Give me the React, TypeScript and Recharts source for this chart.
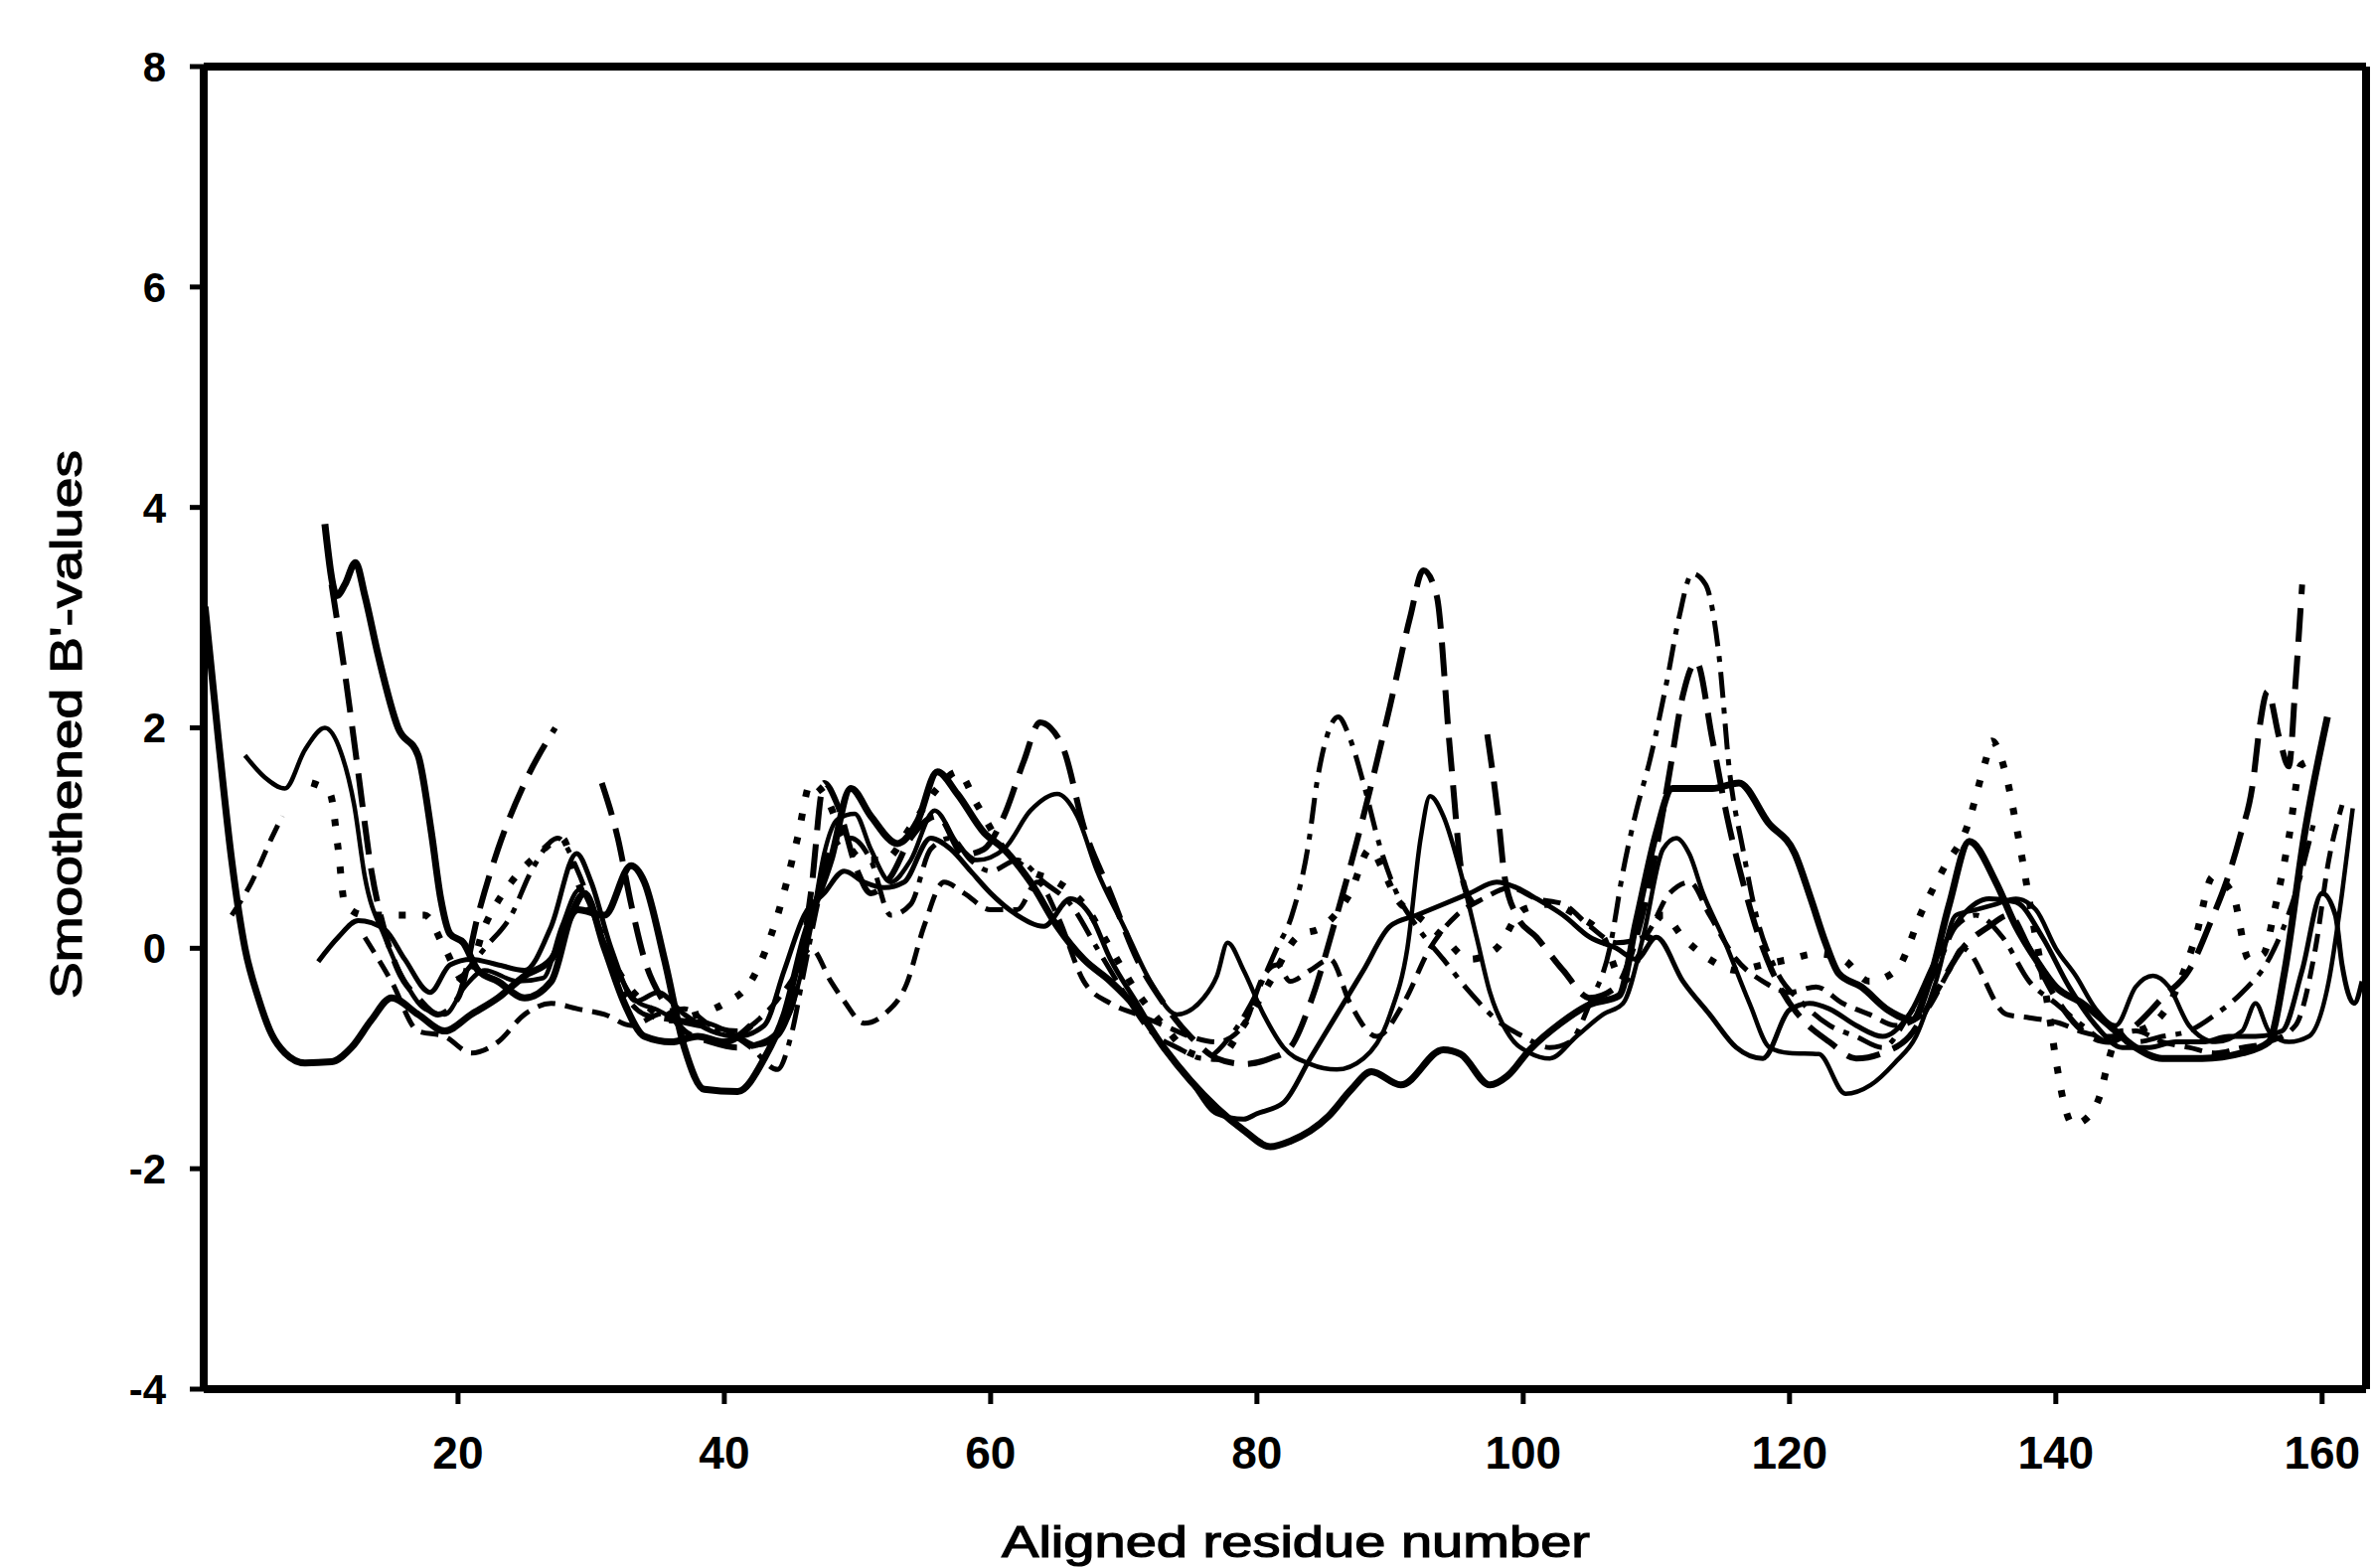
import React from 'react';
import { LineChart, Line, XAxis, YAxis, ReferenceLine } from 'recharts';

type Pt = [number, number | null];

const FONT = '"Liberation Sans", Arial, Helvetica, sans-serif';

const X_TICKS = [20, 40, 60, 80, 100, 120, 140, 160];
const Y_TICKS = [-4, -2, 0, 2, 4, 6, 8];

// thick solid trace (left spike, deep trough near 81, plateau at 111-116)
const thickSolid: Pt[] = [
  [1, 3.1], [2, 1.9], [3, 0.8], [4, 0.0], [5, -0.45], [6, -0.78], [7, -0.95], [8.5, -1.04], [10.5, -1.03],
  [12, -0.9], [13.5, -0.65], [15, -0.45], [17, -0.6], [19, -0.75], [21, -0.6], [23, -0.45], [25, -0.25],
  [27, -0.1], [29, 0.35], [31, 0.3], [33, 0.75], [34, 0.6], [35.5, -0.1], [37, -0.9], [38.5, -1.28],
  [41, -1.3], [43, -1.0], [44.5, -0.6], [46, 0.1], [48, 0.8], [49.5, 1.45], [51, 1.2], [53, 0.95],
  [54.5, 1.15], [56, 1.6], [57.5, 1.4], [59.5, 1.05], [61, 0.9], [63, 0.6], [65, 0.2], [67, -0.1],
  [69, -0.3], [71, -0.55], [73, -0.9], [75, -1.2], [77, -1.45], [79, -1.65], [81, -1.8], [82.5, -1.75],
  [85.4, -1.52], [87.1, -1.28], [88.6, -1.12], [90.8, -1.24], [94, -0.92], [95.3, -0.96], [97.5, -1.24],
  [98.8, -1.16], [100.5, -0.92], [102.8, -0.68], [105, -0.51], [107.2, -0.43], [108.5, 0.25], [110, 1.05],
  [111.2, 1.45], [114.2, 1.45], [116.2, 1.5], [118.4, 1.14], [120.4, 0.86], [121.6, 0.45], [122.7, 0.05],
  [123.7, -0.23], [125.4, -0.35], [127.4, -0.56], [129.2, -0.65], [130.5, -0.3], [132, 0.4], [133.5, 0.97],
  [135.5, 0.6], [137, 0.2], [138.5, -0.1], [140, -0.35], [142, -0.5], [144, -0.7], [146, -0.9], [148, -1.0],
  [151, -1.0], [154, -0.95], [156, -0.85], [157.2, -0.2], [158.7, 1.05], [160.4, 2.1],
];

// thick solid trace that starts high at residue 10
const startSolid: Pt[] = [
  [10, 3.85], [10.9, 3.2], [11.5, 3.3], [12.3, 3.5], [13, 3.2], [14, 2.66], [15.5, 2.0], [17, 1.75],
  [18, 1.05], [18.7, 0.45], [19.4, 0.13], [20.4, 0.05], [21.5, -0.2], [23, -0.3], [25, -0.45], [27, -0.3],
  [28.5, 0.3], [29.5, 0.5], [31, 0.0], [32.5, -0.5], [34, -0.8], [36, -0.85], [38, -0.8], [40, -0.85], [42, -0.7],
];

const thinSolid: Pt[] = [
  [4, 1.75], [5.5, 1.55], [7, 1.45], [8.5, 1.8], [10, 2.0], [11.2, 1.78], [12.2, 1.3], [13, 0.65], [14.5, 0.1],
  [16, -0.3], [17.5, -0.55], [19, -0.6], [20.5, -0.35], [22, -0.2], [24.5, -0.3], [26.4, -0.27], [27.8, 0.2],
  [29.1, 0.53], [31, 0.05], [33.4, -0.48], [35, -0.56], [36.3, -0.64], [38.8, -0.68], [41, -0.8], [42.5, -0.88],
  [44, -0.8], [45, -0.56], [46.6, 0.25], [47.5, 0.86], [48.5, 1.17], [49.8, 1.22], [51, 0.9], [52.5, 0.6],
  [54, 0.8], [55.8, 1.25], [57.5, 0.95], [59, 0.8], [61, 0.9], [63, 1.25], [65, 1.4], [66.5, 1.2], [68, 0.7],
  [70, 0.2], [72, -0.3], [74, -0.6], [76, -0.45], [77, -0.25], [77.8, 0.05], [79, -0.2], [80.5, -0.6],
  [82, -0.9], [84, -1.05], [86, -1.1], [88, -1.0], [90, -0.6], [91.3, 0.0], [92.3, 1.0], [93, 1.38], [94, 1.2],
  [95.3, 0.69], [96.5, 0.1], [97.5, -0.4], [99, -0.8], [100.5, -0.95], [102, -1.0], [104, -0.8], [106, -0.6],
  [107.5, -0.5], [109, 0.1], [110.5, 0.9], [111.5, 1.0], [112.5, 0.85], [113.5, 0.5], [115, 0.1], [117, -0.5],
  [118.5, -0.9], [120, -0.95], [122.2, -0.96], [124.2, -1.32], [126.1, -1.24], [127.9, -1.04], [129.5, -0.8],
  [131, -0.3], [132.5, 0.3], [134, 0.35], [135.5, 0.4], [137, 0.45], [138.5, 0.35], [140, 0.0], [141.5, -0.25],
  [143, -0.55], [144.5, -0.7], [146, -0.35], [147.3, -0.25], [148.5, -0.35], [150, -0.7], [152, -0.85],
  [154, -0.75], [155, -0.5], [156, -0.75], [157.5, -0.85], [159, -0.8], [160.5, -0.3], [161.5, 0.5], [162.3, 1.27],
];

const midSolid: Pt[] = [
  [9.5, -0.12], [11, 0.1], [12.5, 0.25], [14.5, 0.17], [16, -0.1], [17.9, -0.4], [19.4, -0.15], [21, -0.1],
  [23, -0.15], [25, -0.2], [27, 0.2], [28.9, 0.86], [30, 0.6], [31.5, 0.0], [33.4, -0.48], [35, -0.4],
  [37, -0.6], [39, -0.75], [41, -0.8], [43, -0.7], [44.5, -0.2], [46, 0.3], [47.5, 0.5], [49, 0.7],
  [50.5, 0.6], [52, 0.55], [53.5, 0.6], [55.5, 1.0], [57, 0.9], [58.5, 0.7], [60, 0.5], [62, 0.3], [64, 0.2],
  [66, 0.45], [67.5, 0.3], [69, -0.1], [71, -0.5], [73, -0.9], [75, -1.2], [77, -1.5], [79, -1.55], [80, -1.5],
  [82, -1.4], [84, -1.0], [86, -0.6], [88, -0.2], [90, 0.2], [92, 0.3], [94, 0.4], [96, 0.5], [98, 0.6],
  [99.5, 0.55], [101, 0.45], [103, 0.3], [105, 0.1], [107, 0.0], [108.5, -0.1], [110, 0.1], [112, -0.3],
  [114, -0.6], [116, -0.9], [118, -1.0], [120, -0.56], [121.5, -0.5], [123, -0.55], [125, -0.7], [127, -0.8],
  [129, -0.6], [131, -0.1], [133, 0.3], [135, 0.45], [137, 0.42], [139, 0.1], [141, -0.35], [143, -0.7],
  [145, -0.9], [147, -0.9], [149, -0.85], [151, -0.85], [153, -0.8], [155, -0.8], [157, -0.75], [158.5, -0.2],
  [160, 0.5], [161, 0.3], [161.5, -0.15], [162.4, -0.5], [163, -0.3],
];

const longDash: Pt[] = [
  [10.5, 3.3], [11.5, 2.5], [12.5, 1.6], [13.5, 0.7], [14.5, 0.15], [15.5, -0.2], [17, -0.45], [18.5, -0.6],
  [20, -0.45], [21.5, 0.3], [23, 0.9], [25, 1.5], [27.3, 2.0], [28, null], [30.8, 1.5], [32, 1.0], [33, 0.4],
  [34, -0.1], [35.5, -0.5], [37, -0.75], [39, -0.85], [41, -0.9], [43, -0.85], [45, -0.55], [46.5, 0.5],
  [47.5, 1.5], [48.5, 1.3], [50, 0.7], [51, 0.5], [52.5, 0.65], [54, 1.0], [56, 1.2], [58, 0.85], [59.5, 0.9],
  [61, 1.2], [62.5, 1.7], [63.7, 2.05], [64.5, 2.0], [65.5, 1.8], [67, 1.1], [69, 0.5], [71, -0.1], [73, -0.5],
  [75, -0.8], [77, -1.0], [79, -1.05], [81, -1.0], [82.5, -0.9], [84, -0.5], [86, 0.3], [88, 1.2], [90, 2.2],
  [91.5, 3.0], [92.5, 3.43], [93.5, 3.2], [94.5, 1.8], [95.5, 0.6], [96.3, 0.4], [96.8, null], [97.3, 1.94],
  [98.1, 1.22], [98.6, 0.65], [99.5, 0.3], [101, 0.1], [103, -0.2], [105, -0.45], [107, -0.35], [108.5, 0.1],
  [110, 0.9], [111, 1.6], [112, 2.3], [113, 2.6], [114.2, 1.9], [115.3, 1.2], [116.5, 0.6], [118, 0.0],
  [119.5, -0.4], [121, -0.65], [123, -0.85], [125, -1.0], [127, -0.95], [129, -0.8], [131, -0.4], [133, 0.0],
  [135, 0.2], [136.5, 0.3], [138, 0.0], [140, -0.45], [142, -0.75], [144, -0.85], [146, -0.7], [148, -0.45],
  [150, -0.2], [151.8, 0.29], [152.8, 0.6], [153.8, 1.0], [154.8, 1.5], [155.3, 2.0], [155.9, 2.33],
  [156.8, 1.9], [157.5, 1.65], [158, 2.4], [158.5, 3.3],
];

const dashDot: Pt[] = [
  [20, -0.3], [22, 0.0], [24, 0.3], [25.5, 0.7], [27.5, 1.0], [29, 0.7], [30.5, 0.2], [32, -0.3], [34, -0.6],
  [36, -0.65], [38, -0.7], [40, -0.75], [42, -0.9], [44, -1.1], [45, -0.8], [46, -0.2], [47, 0.4], [48, 0.9],
  [49.5, 1.0], [51, 0.8], [52.5, 0.3], [54, 0.4], [55.5, 0.9], [57, 1.0], [58.5, 0.8], [60, 0.7], [62, 0.8],
  [64, 0.6], [66, 0.4], [68, 0.0], [70, -0.4], [72, -0.75], [74, -0.9], [76, -1.0], [78, -0.8], [80, -0.4],
  [81.5, 0.0], [82.6, 0.29], [83.9, 0.97], [84.5, 1.5], [85.2, 1.9], [86.1, 2.1], [87, 1.9], [88, 1.5],
  [89.2, 0.94], [90.5, 0.5], [92, 0.2], [94, -0.1], [96, -0.4], [98, -0.65], [100, -0.8], [102, -0.9],
  [103.5, -0.85], [105, -0.5], [106.5, 0.0], [107.5, 0.7], [108.5, 1.25], [109.5, 1.7], [110.8, 2.43],
  [111.7, 3.0], [112.7, 3.4], [113.7, 3.3], [114.7, 2.66], [115.5, 1.6], [116.5, 0.9], [117.5, 0.3],
  [119, -0.2], [121, -0.5], [123, -0.7], [125, -0.8], [127, -0.9], [129, -0.6], [131, -0.2], [132.5, 0.2],
  [134, 0.3], [136, 0.1], [138, -0.3], [140, -0.5], [142, -0.7], [144, -0.85], [146, -0.85], [148, -0.8],
  [150, -0.75], [152, -0.6], [154, -0.4], [156, -0.1], [158, 0.5], [159.5, 1.2],
];

const dotted: Pt[] = [
  [9, 1.5], [10.4, 1.4], [11, 0.9], [11.5, 0.4], [13, 0.3], [15.5, 0.3], [17.5, 0.3], [19, 0.0], [20.5, -0.3],
  [22, 0.2], [24, 0.6], [26, 0.85], [27.8, 1.0], [29, 0.6], [30.5, 0.2], [32, -0.2], [34, -0.5], [36, -0.65],
  [38, -0.6], [40, -0.5], [42, -0.3], [44, 0.3], [45.5, 1.0], [46.5, 1.5], [47.5, 1.4], [49, 1.0], [50.5, 0.8],
  [52, 0.8], [54, 1.1], [56, 1.45], [57.5, 1.6], [59, 1.3], [61, 0.9], [63, 0.7], [65, 0.6], [67, 0.4],
  [69, 0.0], [71, -0.4], [73, -0.7], [75, -0.95], [77, -1.0], [79, -0.7], [81, -0.3], [83, 0.1], [85, 0.2],
  [87, 0.5], [88.5, 0.9], [89.5, 0.7], [90.5, 0.45], [92, 0.3], [94, 0.1], [96, -0.1], [98, 0.0], [100, 0.35],
  [102, 0.4], [104, 0.3], [106, 0.1], [107.5, -0.3], [109, 0.0], [110.5, 0.3], [112, 0.1], [114, -0.1],
  [116, -0.2], [118, -0.15], [120, -0.1], [122, -0.05], [124, -0.1], [126, -0.3], [128, -0.2], [130, 0.35],
  [131.6, 0.73], [133.3, 1.09], [134.7, 1.69], [135.2, 1.88], [136.2, 1.6], [137.2, 1.0], [138.2, 0.3],
  [139.4, -0.52], [140.1, -1.08], [140.6, -1.4], [141.3, -1.6], [142.5, -1.52], [143.3, -1.34], [144, -1.0],
  [144.8, -0.76], [146, -0.75], [148, -0.6], [150.5, 0.1], [151.8, 0.65], [153.3, 0.49], [154.5, -0.1],
  [155.6, -0.05], [156.4, 0.33], [157.5, 1.0], [158.4, 1.66], [159.2, 1.7],
];

const mediumDash: Pt[] = [
  [3, 0.3], [4.5, 0.6], [6, 1.0], [6.8, 1.2], [7.5, null], [13, 0.1], [15, -0.3], [17, -0.75], [19, -0.8],
  [21, -0.95], [23, -0.85], [25, -0.6], [27, -0.5], [29, -0.55], [31, -0.6], [33, -0.7], [35, -0.6],
  [37, -0.55], [39, -0.7], [41, -0.75], [43, -0.6], [45, -0.3], [46.5, 0.0], [48, -0.3], [49, -0.48],
  [50.5, -0.68], [52, -0.6], [53.7, -0.32], [55, 0.2], [56.5, 0.6], [58, 0.5], [60, 0.35], [62, 0.35],
  [63.5, 0.6], [65, 0.3], [67, -0.3], [69, -0.5], [71, -0.6], [73, -0.7], [75, -0.8], [77, -0.85], [79, -0.7],
  [80.5, -0.25], [81.5, -0.15], [82.5, -0.3], [84, -0.2], [85.5, -0.1], [87, -0.5], [89, -0.8], [91, -0.5],
  [93, 0.0], [95, 0.3], [97, 0.45], [99, 0.55], [101, 0.45], [103, 0.4], [105, 0.2], [107, 0.05], [109, 0.1],
  [111, 0.5], [112.5, 0.6], [114, 0.3], [116, -0.1], [118, -0.3], [120, -0.4], [122, -0.35], [124, -0.5],
  [126, -0.6], [128, -0.7], [130, -0.6], [132, -0.2], [133, 0.0], [136.3, -0.6], [138, -0.63], [140.3, -0.68],
  [142, -0.76], [144, -0.8], [146, -0.75], [148, -0.85], [150, -0.9], [152, -0.95], [154, -0.9], [156, -0.85],
  [158, -0.7], [159.5, 0.0], [160.5, 0.8], [161.5, 1.3],
];

const toRows = (pts: Pt[]) => pts.map(([r, v]) => ({ r, v }));

const SERIES = [
  { name: 'thickSolid', pts: thickSolid, width: 7, dash: undefined },
  { name: 'startSolid', pts: startSolid, width: 7, dash: undefined },
  { name: 'thinSolid', pts: thinSolid, width: 4.5, dash: undefined },
  { name: 'midSolid', pts: midSolid, width: 5, dash: undefined },
  { name: 'longDash', pts: longDash, width: 6, dash: '34 14' },
  { name: 'dashDot', pts: dashDot, width: 5, dash: '26 10 6 10' },
  { name: 'dotted', pts: dotted, width: 7, dash: '7 17' },
  { name: 'mediumDash', pts: mediumDash, width: 5, dash: '18 10' },
];

const renderXTitle = () => (
  <text
    x={1304}
    y={1567}
    textAnchor="middle"
    fontFamily={FONT}
    fontSize={44}
    textLength={592}
    lengthAdjust="spacingAndGlyphs"
    fill="#000"
    stroke="#000"
    strokeWidth={1.2}
  >
    Aligned residue number
  </text>
);

const renderYTitle = () => (
  <text
    x={82}
    y={729}
    transform="rotate(-90 82 729)"
    textAnchor="middle"
    fontFamily={FONT}
    fontSize={44}
    textLength={552}
    lengthAdjust="spacingAndGlyphs"
    fill="#000"
    stroke="#000"
    strokeWidth={1.2}
  >
    Smoothened B'-values
  </text>
);

const xTickStyle = { fill: '#000', fontSize: 46, fontWeight: 700, fontFamily: FONT };
const yTickStyle = { fill: '#000', fontSize: 42, fontWeight: 700, fontFamily: FONT };

export default function App() {
  return (
    <div style={{ position: 'absolute', left: 0, top: 0, width: 2389, height: 1578, background: '#fff' }}>
      <LineChart width={2389} height={1578} margin={{ top: 67, right: 8, left: 0, bottom: 0 }}>
        <XAxis
          dataKey="r"
          type="number"
          domain={[0.9, 163.3]}
          ticks={X_TICKS}
          allowDataOverflow
          height={180}
          tickSize={15}
          tickMargin={32}
          axisLine={{ stroke: '#000', strokeWidth: 8 }}
          tickLine={{ stroke: '#000', strokeWidth: 5 }}
          tick={xTickStyle}
          label={renderXTitle}
        />
        <YAxis
          type="number"
          domain={[-4, 8]}
          ticks={Y_TICKS}
          allowDataOverflow
          width={205}
          tickSize={14}
          tickMargin={24}
          axisLine={{ stroke: '#000', strokeWidth: 8 }}
          tickLine={{ stroke: '#000', strokeWidth: 5 }}
          tick={yTickStyle}
          label={renderYTitle}
        />
        <ReferenceLine y={8} stroke="#000" strokeWidth={8} />
        <ReferenceLine x={163.3} stroke="#000" strokeWidth={8} />
        {SERIES.map((s) => (
          <Line
            key={s.name}
            data={toRows(s.pts)}
            dataKey="v"
            type="monotone"
            stroke="#000"
            strokeWidth={s.width}
            strokeDasharray={s.dash}
            dot={false}
            activeDot={false}
            connectNulls={false}
            isAnimationActive={false}
          />
        ))}
      </LineChart>
    </div>
  );
}
